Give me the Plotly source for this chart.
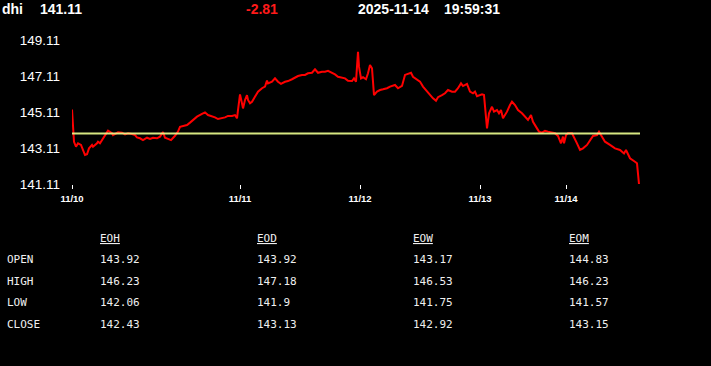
import plotly.graph_objects as go

# ---------------- data ----------------
symbol = "dhi"
last_price = 141.11
change = -2.81
stamp_date = "2025-11-14"
stamp_time = "19:59:31"
ref_level = 143.92  # reference (open) level drawn as the flat line

# sample index (intraday bars) and price
t = [0, 1, 2, 3, 4.5, 5.5, 6.5, 7.5, 8.5, 10, 10.5, 12.5, 13, 14, 15.5, 17.5, 18, 20, 20.5, 23,
     25, 26.5, 28, 30, 31.5, 32.5, 34, 35.5, 37.5, 39, 40.5, 42.5, 44, 45.5, 46.5, 48, 49.5, 51.5, 53, 54,
     55.5, 57.5, 59, 60.5, 62.5, 65, 66.5, 68, 70, 71.5, 73, 75, 76.5, 78, 80, 81.5, 82.5, 83, 84, 85,
     85.5, 86.5, 87.5, 88, 89, 90, 91.5, 93, 95, 96.5, 97.5, 98, 100, 101.5, 103, 104.5, 106.5, 108, 110, 111.5,
     113, 115, 116.5, 118, 120, 121.5, 123, 125, 126.5, 128, 130, 131.5, 133, 135, 136.5, 138, 140, 141, 142, 142.5,
     143, 143.5, 144.5, 145.5, 147, 148, 149, 150, 150.5, 151, 152.5, 154, 155.5, 157.5, 159, 161.5, 163, 165, 166.5, 168,
     169.5, 170.5, 172.5, 174, 175.5, 177.5, 179, 180.5, 182, 183, 185, 186.5, 188, 190, 191.5, 193, 194.5, 195.5, 197.5, 199,
     200.5, 201.5, 202.5, 205, 206, 206.5, 207.5, 208.5, 210, 211, 212.5, 213.5, 214.5, 215.5, 217.5, 219, 220, 221.5, 223, 225,
     226.5, 228, 229.5, 230.5, 232.5, 233.5, 235, 236.5, 238, 240, 241.5, 243, 244.5, 245.5, 246, 247, 248, 250, 250.5, 252.5,
     254, 255.5, 257.5, 259, 260.5, 262.5, 263.5, 265, 266.5, 269, 271.5, 274, 276, 277, 279, 281.5, 282.5, 283.5]

price = [145.25, 143.45, 143.18, 143.37, 143.28, 143.00, 142.72, 142.76, 143.09, 143.28, 143.18, 143.37, 143.46, 143.37, 143.65, 144.05, 144.07, 143.93, 143.83, 143.98,
         143.96, 143.87, 143.93, 143.89, 143.83, 143.70, 143.65, 143.55, 143.68, 143.61, 143.68, 143.65, 143.74, 144.00, 143.68, 143.62, 143.55, 143.79, 144.02, 144.29,
         144.35, 144.39, 144.52, 144.67, 144.85, 145.00, 145.09, 144.94, 144.89, 144.81, 144.72, 144.76, 144.81, 144.89, 144.89, 144.94, 144.76, 145.22, 146.09, 145.59,
         145.31, 145.78, 146.05, 145.78, 145.59, 145.68, 145.96, 146.24, 146.43, 146.52, 146.85, 146.70, 146.79, 146.98, 146.79, 146.67, 146.79, 146.83, 146.93, 147.02,
         147.11, 147.17, 147.17, 147.26, 147.29, 147.48, 147.29, 147.35, 147.35, 147.40, 147.31, 147.20, 147.07, 147.02, 146.98, 146.85, 146.83, 146.98, 146.79, 147.63,
         148.46, 147.63, 146.98, 147.04, 146.93, 147.26, 147.72, 147.54, 146.70, 146.05, 146.24, 146.33, 146.37, 146.43, 146.52, 146.61, 146.43, 146.56, 147.17, 147.22,
         147.29, 147.07, 146.89, 146.80, 146.52, 146.24, 146.05, 145.87, 145.74, 145.93, 146.05, 146.15, 146.33, 146.24, 146.24, 146.43, 146.70, 146.55, 146.67, 146.24,
         146.15, 146.24, 145.99, 146.09, 146.05, 145.40, 144.20, 145.04, 145.40, 145.13, 145.22, 145.04, 145.22, 144.76, 145.13, 145.50, 145.68, 145.50, 145.22, 145.04,
         144.85, 144.67, 144.94, 144.57, 144.20, 144.02, 143.96, 144.07, 144.02, 143.98, 143.93, 143.78, 143.37, 143.74, 143.37, 143.83, 143.93, 143.93, 143.83, 143.37,
         143.00, 143.09, 143.28, 143.55, 143.78, 143.83, 144.02, 143.74, 143.46, 143.28, 143.09, 143.00, 142.81, 143.00, 142.54, 142.35, 142.26, 141.11]

assert len(t) == len(price)

tick_pos = [0, 84, 144, 204, 247]
tick_text = ["11/10", "11/11", "11/12", "11/13", "11/14"]

y_ticks = [141.11, 143.11, 145.11, 147.11, 149.11]

periods = ["EOH", "EOD", "EOW", "EOM"]
row_labels = ["OPEN", "HIGH", "LOW", "CLOSE"]
open_vals = [143.92, 143.92, 143.17, 144.83]
high_vals = [146.23, 147.18, 146.53, 146.23]
low_vals = [142.06, 141.9, 141.75, 141.57]
close_vals = [142.43, 143.13, 142.92, 143.15]

# ---------------- layout geometry ----------------
W, H = 711, 366
PL, PR, PT, PB = 72, 640, 40, 184  # plot area in pixels


def px(xpix):
    return (xpix - PL) / (PR - PL)


def py(ypix):
    return (PB - ypix) / (PB - PT)


fig = go.Figure()
fig.add_trace(go.Scatter(x=t, y=price, mode="lines",
                         line=dict(color="#ff0000", width=2), hoverinfo="skip"))
fig.add_trace(go.Scatter(x=[t[0], t[-1] + 0.5], y=[ref_level, ref_level], mode="lines",
                         line=dict(color="#eeff90", width=2), opacity=0.9, hoverinfo="skip"))

annotations = []
hdr_font = dict(family="Liberation Sans, Arial", size=14, color="white")
hdr_y = py(9.5)
for xpix, txt, col in [(2, symbol, "white"), (39.5, f"{last_price:.2f}", "white"),
                       (246, f"{change:.2f}", "#ff1a1a"), (357.5, stamp_date, "white"),
                       (443.5, stamp_time, "white")]:
    annotations.append(dict(x=px(xpix), y=hdr_y, xref="paper", yref="paper",
                            text=f"<b>{txt}</b>", showarrow=False, xanchor="left", yanchor="middle",
                            font=dict(hdr_font, color=col), borderpad=0, borderwidth=0))

mono = dict(family="DejaVu Sans Mono", size=11, color="#f0f0f0")
col_x = [99.5, 256.5, 412.5, 569]
row_y = [259.5, 281, 302.5, 324.5]
for cx, p in zip(col_x, periods):
    annotations.append(dict(x=px(cx), y=py(238.5), xref="paper", yref="paper",
                            text=f"<u>{p}</u>", showarrow=False, xanchor="left", yanchor="middle",
                            font=mono, borderpad=0, borderwidth=0))
rows = [open_vals, high_vals, low_vals, close_vals]
for ry, lab, vals in zip(row_y, row_labels, rows):
    annotations.append(dict(x=px(6.5), y=py(ry), xref="paper", yref="paper",
                            text=lab, showarrow=False, xanchor="left", yanchor="middle",
                            font=mono, borderpad=0, borderwidth=0))
    for cx, v in zip(col_x, vals):
        annotations.append(dict(x=px(cx), y=py(ry), xref="paper", yref="paper",
                                text=str(v), showarrow=False, xanchor="left", yanchor="middle",
                                font=mono, borderpad=0, borderwidth=0))

fig.update_layout(
    width=W, height=H,
    margin=dict(l=PL, r=W - PR, t=PT, b=H - PB, pad=0),
    paper_bgcolor="black", plot_bgcolor="black",
    showlegend=False,
    annotations=annotations,
    xaxis=dict(range=[0, 284], tickmode="array", tickvals=tick_pos, ticktext=tick_text,
               showgrid=False, zeroline=False, showline=False,
               ticks="outside", ticklen=4, tickwidth=1, tickcolor="white",
               tickfont=dict(family="Liberation Sans, Arial", size=9.5, color="white", weight="bold"),
               ticklabelstandoff=2),
    yaxis=dict(range=[141.11, 149.11], tickmode="array", tickvals=y_ticks,
               ticktext=[f"{v:.2f}" for v in y_ticks],
               showgrid=False, zeroline=False, showline=False, ticks="",
               tickfont=dict(family="Liberation Sans, Arial", size=13.5, color="white"),
               ticklabelstandoff=11),
)

fig.write_html("out.html")
